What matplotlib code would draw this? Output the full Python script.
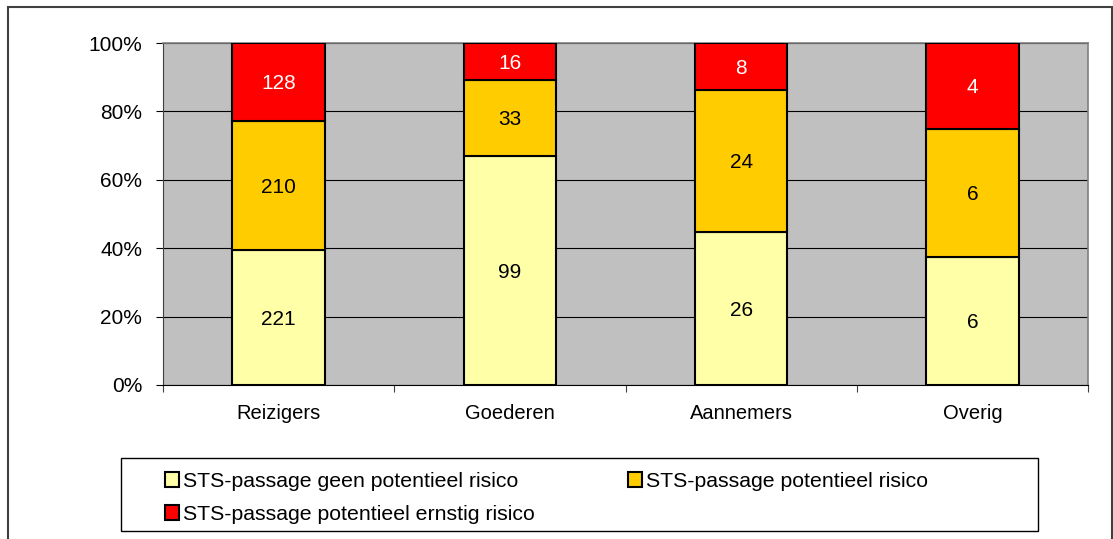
import matplotlib.pyplot as plt
from matplotlib.patches import Rectangle
from matplotlib.ticker import PercentFormatter, FixedLocator

plt.rcParams['font.family'] = ['Liberation Sans', 'DejaVu Sans']

categories = ['Reizigers', 'Goederen', 'Aannemers', 'Overig']
geen_risico = [221, 99, 26, 6]
potentieel_risico = [210, 33, 24, 6]
ernstig_risico = [128, 16, 8, 4]

series = [
    ('STS-passage geen potentieel risico', geen_risico, '#FFFFA8', 'black'),
    ('STS-passage potentieel risico', potentieel_risico, '#FFCC00', 'black'),
    ('STS-passage potentieel ernstig risico', ernstig_risico, '#FF0000', 'white'),
]

W, H = 1113, 539
fig = plt.figure(figsize=(W / 100, H / 100), dpi=100)
ax = fig.add_axes([163 / W, 1 - 385 / H, 925 / W, 342 / H])
ax.set_facecolor('#C0C0C0')

totals = [sum(v) for v in zip(geen_risico, potentieel_risico, ernstig_risico)]
x = range(len(categories))
bottoms = [0.0] * len(categories)
handles = []
for name, vals, color, txtcolor in series:
    shares = [v / t for v, t in zip(vals, totals)]
    bars = ax.bar(x, shares, width=0.4, bottom=bottoms, color=color,
                  edgecolor='black', linewidth=1.5, zorder=3, label=name)
    handles.append(bars)
    for i, (s, v) in enumerate(zip(shares, vals)):
        ax.text(i, bottoms[i] + s / 2 - 0.005, str(v), ha='center', va='center',
                fontsize=15, color=txtcolor, zorder=4)
    bottoms = [b + s for b, s in zip(bottoms, shares)]

ax.set_xlim(-0.5, len(categories) - 0.5)
ax.set_ylim(0, 1)
ax.yaxis.set_major_locator(FixedLocator([0, 0.2, 0.4, 0.6, 0.8, 1.0]))
ax.yaxis.set_major_formatter(PercentFormatter(1.0, decimals=0))
ax.grid(axis='y', color='black', linewidth=0.8, zorder=1)
ax.set_axisbelow(True)

ax.set_xticks(list(x))
ax.set_xticklabels(categories)
ax.set_xticks([i - 0.5 for i in range(len(categories) + 1)], minor=True)
ax.tick_params(axis='x', which='major', length=0, labelsize=14.5, pad=14)
ax.tick_params(axis='x', which='minor', length=5, width=0.8, color='#404040')
ax.tick_params(axis='y', length=5, width=0.8, labelsize=15, pad=10)

for side in ('top', 'right'):
    ax.spines[side].set_color('#808080')
    ax.spines[side].set_linewidth(1.2)
ax.spines['bottom'].set_color('black')
ax.spines['left'].set_color('#404040')
for side in ('bottom', 'left'):
    ax.spines[side].set_linewidth(0.8)

# outer chart frame and legend box
fig.patches.append(Rectangle((8 / W, -0.05), 1104 / W, 1.05 - 7 / H,
                             transform=fig.transFigure, fill=False,
                             edgecolor='#404040', linewidth=1.5))
fig.patches.append(Rectangle((121 / W, 1 - 531 / H), 917 / W, 73 / H,
                             transform=fig.transFigure, fill=False,
                             edgecolor='black', linewidth=1.0))

# column-major fill, so order the handles to read row by row
order = [0, 2, 1]
fig.legend(handles=[handles[i] for i in order], loc='upper left', ncol=2,
           frameon=False, bbox_to_anchor=(165 / W, 1 - 472 / H), fontsize=15.3,
           handlelength=0.65, handleheight=0.65, handletextpad=0.2,
           columnspacing=4.4, labelspacing=0.66, borderpad=0,
           borderaxespad=0)

fig.savefig('out.png', dpi=100)
